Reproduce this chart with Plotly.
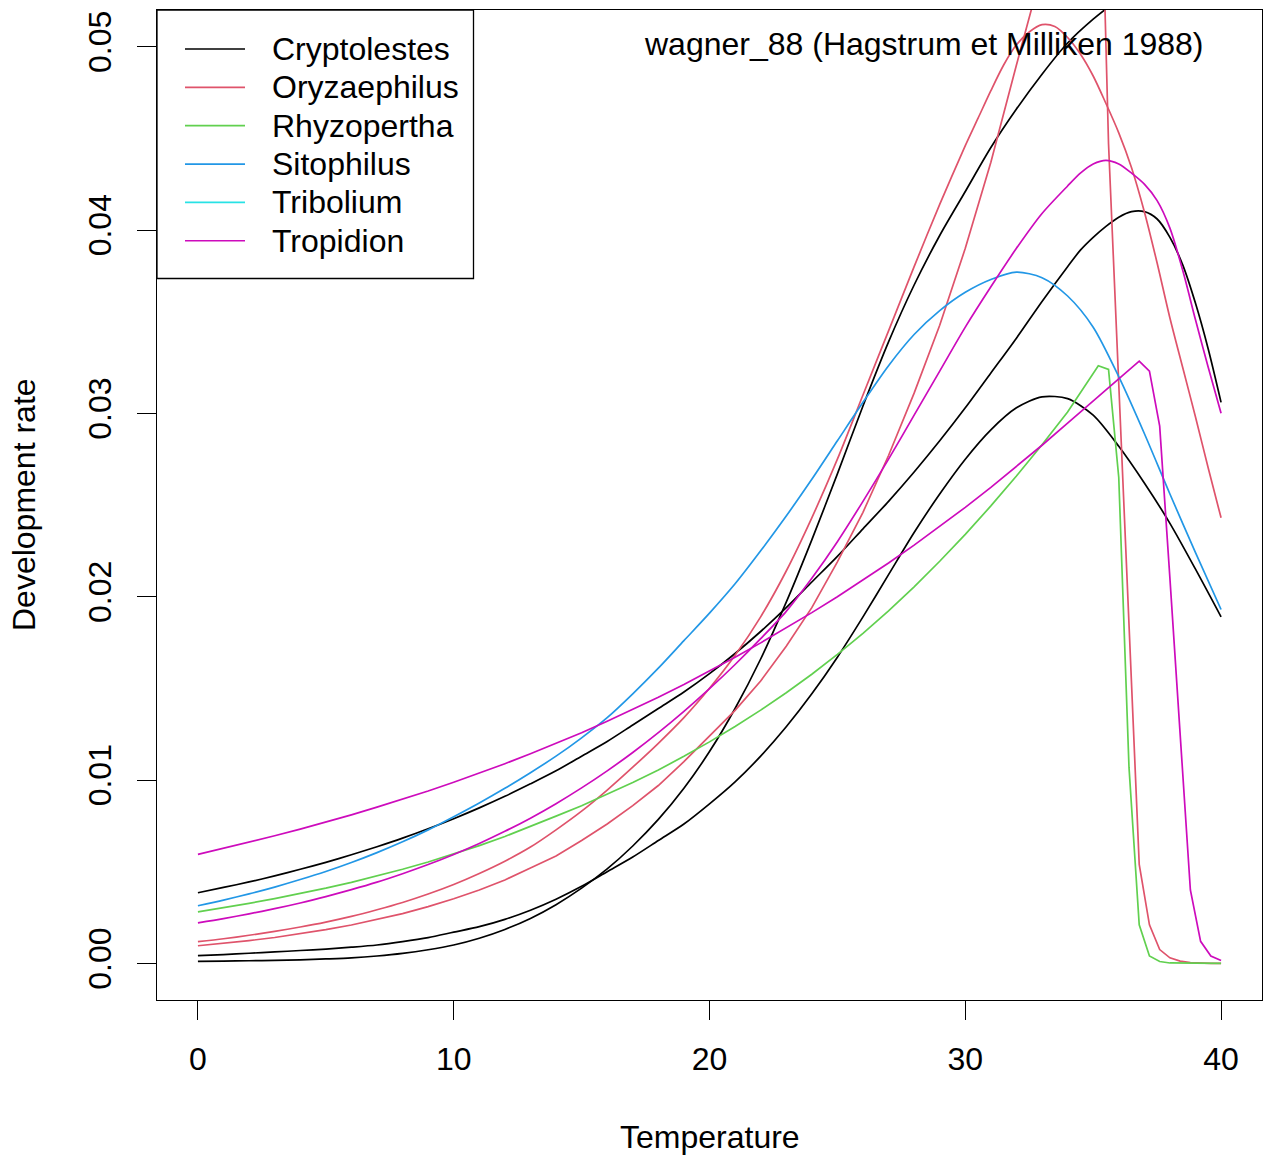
import plotly.graph_objects as go

# ---------------- data ----------------
ints = list(range(0, 41))

# Cryptolestes (black) - three fitted curves
crypto1_temp = list(range(0, 34)) + [34, 34.5, 35, 35.5, 36, 36.5, 37, 37.5, 38, 38.5, 39, 39.5, 40]
crypto1_rate = [0.00385, 0.00414, 0.00444, 0.00477, 0.00513, 0.00551, 0.00592, 0.00636, 0.00683, 0.00734,
                0.00789, 0.00848, 0.00911, 0.00979, 0.0105, 0.0113, 0.0121, 0.0130, 0.0139, 0.0148,
                0.0158, 0.0169, 0.0181, 0.0194, 0.0208, 0.0222, 0.0237, 0.0252, 0.0268, 0.0285,
                0.0303, 0.0322, 0.0341, 0.0361,
                0.0380, 0.0389, 0.0396, 0.0402, 0.0407, 0.0410, 0.0410, 0.0406, 0.0396, 0.0381, 0.0360, 0.0335, 0.0306]

crypto2_temp = ints
crypto2_rate = [0.00042, 0.00048, 0.00055, 0.00062, 0.00070, 0.00078, 0.00088, 0.00100, 0.00118, 0.00140,
                0.00170, 0.00200, 0.00240, 0.00290, 0.00350, 0.00420, 0.00500, 0.00580, 0.00670, 0.00760,
                0.00870, 0.00990, 0.01130, 0.01290, 0.01470, 0.01670, 0.01890, 0.02120, 0.02350, 0.02560,
                0.02750, 0.02910, 0.03030, 0.03090, 0.03080, 0.02990, 0.02820, 0.02620, 0.02400, 0.02150,
                0.01890]

crypto3_temp = ints
crypto3_rate = [0.00011, 0.00012, 0.00014, 0.00016, 0.00019, 0.00024, 0.00030, 0.00040, 0.00054, 0.00074,
                0.00100, 0.00137, 0.00185, 0.00245, 0.00320, 0.00410, 0.00515, 0.00640, 0.00785, 0.00955,
                0.01155, 0.01390, 0.01660, 0.01970, 0.02310, 0.02670, 0.03040, 0.03390, 0.03700, 0.03970,
                0.04210, 0.04450, 0.04660, 0.04850, 0.05020, 0.05150, 0.05260, 0.05370, 0.05450, 0.05500,
                0.05520]

# Oryzaephilus (red) - two fitted curves
oryza1_temp = list(range(0, 30)) + [30, 30.5, 31, 31.5, 32, 32.5, 33, 33.5, 34, 34.5, 35, 35.5, 36, 36.5,
                                    37, 37.5, 38, 38.5, 39, 39.5, 40]
oryza1_rate = [0.00118, 0.00134, 0.00153, 0.00174, 0.00198, 0.00225, 0.00256, 0.00292, 0.00332, 0.00378,
               0.00430, 0.00490, 0.00557, 0.00634, 0.00728, 0.00830, 0.00945, 0.01070, 0.01200, 0.01340,
               0.01500, 0.01680, 0.01890, 0.02140, 0.02430, 0.02750, 0.03100, 0.03450, 0.03800, 0.04140,
               0.04460, 0.04610, 0.04760, 0.04900, 0.05010, 0.05080, 0.05120, 0.05110, 0.05050, 0.04960,
               0.04840, 0.04690, 0.04530, 0.04340, 0.04100, 0.03820, 0.03520, 0.03250, 0.02980, 0.02700,
               0.02430]

oryza2_temp = list(range(0, 33)) + [32.4, 32.8, 33.2, 33.6, 34.0, 34.4, 34.8, 35.2, 35.6, 36.0, 36.4, 36.8,
                                    37.2, 37.6, 38.0, 38.4, 38.8, 39.2, 39.6, 40.0]
oryza2_rate = [0.00096, 0.00109, 0.00124, 0.00141, 0.00161, 0.00184, 0.00209, 0.00238, 0.00271, 0.00309,
               0.00352, 0.00400, 0.00455, 0.00520, 0.00585, 0.00670, 0.00760, 0.00860, 0.00970, 0.01100,
               0.01240, 0.01380, 0.01540, 0.01730, 0.01940, 0.02190, 0.02460, 0.02770, 0.03110, 0.03480,
               0.03900, 0.04370, 0.04900,
               0.05110, 0.05320, 0.05520, 0.05720, 0.05920, 0.06120, 0.06350, 0.06600, 0.04470, 0.03160,
               0.01850, 0.00540, 0.00210, 0.00075, 0.00030, 0.00012, 0.00004, 0.00001, 0.0, 0.0]

# Rhyzopertha (green)
rhyzo_temp = list(range(0, 35)) + [34.4, 34.8, 35.2, 35.6, 36.0, 36.4, 36.8, 37.2, 37.6, 38.0, 39, 40]
rhyzo_rate = [0.00281, 0.00303, 0.00327, 0.00353, 0.00380, 0.00410, 0.00442, 0.00476, 0.00513, 0.00553,
              0.00596, 0.00642, 0.00692, 0.00746, 0.00803, 0.00860, 0.00921, 0.00986, 0.01055, 0.01129,
              0.01208, 0.01292, 0.01381, 0.01476, 0.01577, 0.01685, 0.01800, 0.01923, 0.02054, 0.02193,
              0.02340, 0.02495, 0.02658, 0.02829, 0.03007,
              0.03090, 0.03175, 0.03260, 0.03240, 0.02650, 0.01070, 0.00210, 0.00040, 0.00010, 0.00002,
              0.0, 0.0]

# Sitophilus (blue)
sito_temp = ints
sito_rate = [0.00314, 0.00345, 0.00379, 0.00416, 0.00457, 0.00501, 0.00550, 0.00604, 0.00663, 0.00728,
             0.00800, 0.00875, 0.00955, 0.01040, 0.01130, 0.01230, 0.01340, 0.01470, 0.01610, 0.01760,
             0.01910, 0.02070, 0.02250, 0.02440, 0.02640, 0.02850, 0.03060, 0.03260, 0.03430, 0.03560,
             0.03660, 0.03730, 0.03770, 0.03740, 0.03640, 0.03470, 0.03200, 0.02890, 0.02560, 0.02240,
             0.01930]

# Tropidion (magenta) - two fitted curves
tropi1_temp = list(range(0, 35)) + [34.4, 34.8, 35.2, 35.6, 36.0, 36.4, 36.8, 37.2, 37.6, 38.0, 38.4, 38.8,
                                    39.2, 39.6, 40.0]
tropi1_rate = [0.00594, 0.00627, 0.00661, 0.00696, 0.00732, 0.00770, 0.00810, 0.00852, 0.00895, 0.00940,
               0.00988, 0.01037, 0.01089, 0.01143, 0.01199, 0.01258, 0.01320, 0.01384, 0.01451, 0.01521,
               0.01594, 0.01670, 0.01748, 0.01829, 0.01913, 0.02000, 0.02090, 0.02184, 0.02281, 0.02382,
               0.02487, 0.02596, 0.02709, 0.02826, 0.02947,
               0.02996, 0.03045, 0.03094, 0.03143, 0.03192, 0.03240, 0.03285, 0.03230, 0.02930, 0.02100,
               0.01250, 0.00400, 0.00120, 0.00040, 0.00015]

tropi2_temp = list(range(0, 34)) + [34, 34.5, 35, 35.5, 36, 36.5, 37, 37.5, 38, 38.5, 39, 39.5, 40]
tropi2_rate = [0.00221, 0.00244, 0.00270, 0.00298, 0.00329, 0.00364, 0.00402, 0.00443, 0.00489, 0.00539,
               0.00594, 0.00654, 0.00720, 0.00792, 0.00871, 0.00957, 0.01050, 0.01150, 0.01258, 0.01374,
               0.01498, 0.01630, 0.01771, 0.01920, 0.02100, 0.02300, 0.02520, 0.02750, 0.02990, 0.03230,
               0.03470, 0.03690, 0.03900, 0.04090,
               0.04240, 0.04310, 0.04360, 0.04380, 0.04360, 0.04310, 0.04250, 0.04160, 0.04010, 0.03780,
               0.03510, 0.03250, 0.03000]

species = ["Cryptolestes", "Oryzaephilus", "Rhyzopertha", "Sitophilus", "Tribolium", "Tropidion"]
species_colors = ["#000000", "#DF536B", "#61D04F", "#2297E6", "#28E2E5", "#CD0BBC"]

x_ticks = [0, 10, 20, 30, 40]
y_ticks = [0.00, 0.01, 0.02, 0.03, 0.04, 0.05]
title_text = "wagner_88 (Hagstrum et Milliken 1988)"

# (temps, rates, species index, smooth?)
curves = [
    (crypto1_temp, crypto1_rate, 0, True),
    (crypto2_temp, crypto2_rate, 0, True),
    (crypto3_temp, crypto3_rate, 0, True),
    (oryza1_temp, oryza1_rate, 1, True),
    (oryza2_temp, oryza2_rate, 1, False),
    (rhyzo_temp, rhyzo_rate, 2, False),
    (sito_temp, sito_rate, 3, True),
    (tropi1_temp, tropi1_rate, 5, False),
    (tropi2_temp, tropi2_rate, 5, True),
]

# ---------------- figure ----------------
FONT = "Liberation Sans, Arial, Helvetica, sans-serif"
FS = 32
W, H = 1263, 1156
L, R, T, B = 157, 1, 10, 156
PW, PH = W - L - R, H - T - B


def pxx(p):
    return (p - L) / PW


def pxy(p):
    return (H - B - p) / PH


fig = go.Figure()
for tx, ry, ci, smooth in curves:
    fig.add_trace(go.Scatter(x=tx, y=ry, mode="lines", name=species[ci],
                             line=dict(color=species_colors[ci], width=1.7,
                                       shape="spline" if smooth else "linear", smoothing=0.8),
                             showlegend=False, hoverinfo="skip"))

shapes = []
annotations = []

# legend box (R style)
shapes.append(dict(type="rect", xref="paper", yref="paper",
                   x0=pxx(157), x1=pxx(473.5), y0=pxy(278.5), y1=pxy(10),
                   line=dict(color="black", width=1.3), fillcolor="white", layer="above"))
for i, (name, col) in enumerate(zip(species, species_colors)):
    yy = pxy(49 + i * 38.35)
    shapes.append(dict(type="line", xref="paper", yref="paper",
                       x0=pxx(185), x1=pxx(245), y0=yy, y1=yy,
                       line=dict(color=col, width=1.7), layer="above"))
    annotations.append(dict(text=name, xref="paper", yref="paper", x=pxx(270), y=yy,
                            xanchor="left", yanchor="middle", showarrow=False,
                            font=dict(family=FONT, size=FS, color="black")))

# title inside plot
annotations.append(dict(text=title_text, xref="paper", yref="paper", x=pxx(1205), y=pxy(44),
                        xanchor="right", yanchor="middle", showarrow=False,
                        font=dict(family=FONT, size=FS, color="black")))
# axis titles
annotations.append(dict(text="Temperature", xref="paper", yref="paper", x=pxx(709.5), y=pxy(1137),
                        xanchor="center", yanchor="middle", showarrow=False,
                        font=dict(family=FONT, size=FS, color="black")))
annotations.append(dict(text="Development rate", xref="paper", yref="paper", x=pxx(24), y=pxy(505),
                        xanchor="center", yanchor="middle", showarrow=False, textangle=-90,
                        font=dict(family=FONT, size=FS, color="black")))

fig.update_layout(
    width=W, height=H,
    margin=dict(l=L, r=R, t=T, b=B, pad=0),
    paper_bgcolor="white", plot_bgcolor="white",
    font=dict(family=FONT, size=FS, color="black"),
    shapes=shapes, annotations=annotations,
    showlegend=False,
)
fig.update_xaxes(range=[-1.6, 41.6], tickvals=x_ticks, ticktext=[str(v) for v in x_ticks],
                 showgrid=False, zeroline=False, showline=True, mirror=True,
                 linecolor="black", linewidth=1.3, ticks="outside", ticklen=19, tickwidth=1.3,
                 tickcolor="black", tickfont=dict(family=FONT, size=FS, color="black"),
                 ticklabelstandoff=11)
fig.update_yaxes(range=[-0.002, 0.052], tickvals=y_ticks, ticktext=["%.2f" % v for v in y_ticks],
                 showgrid=False, zeroline=False, showline=True, mirror=True,
                 linecolor="black", linewidth=1.3, ticks="outside", ticklen=19, tickwidth=1.3,
                 tickcolor="black", tickangle=-90, tickfont=dict(family=FONT, size=FS, color="black"),
                 ticklabelstandoff=13)

fig.write_html("out.html", config={"displayModeBar": False},
               post_script="document.body.style.margin='0';document.body.style.padding='0';")
